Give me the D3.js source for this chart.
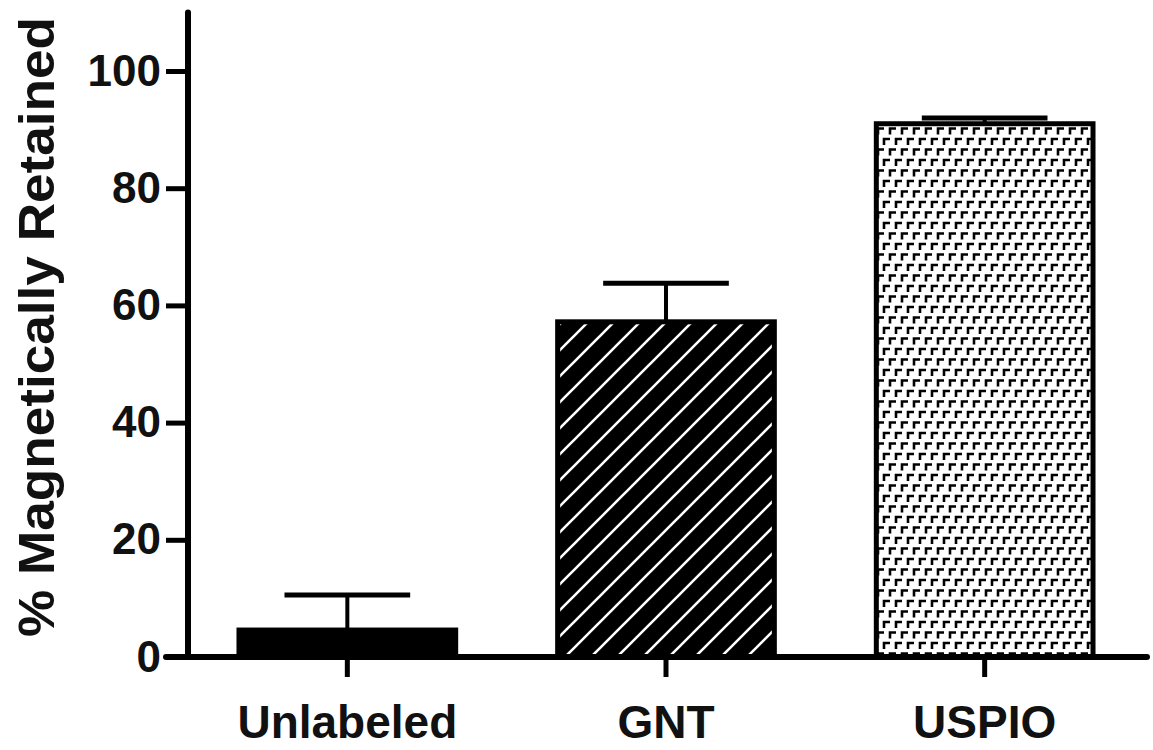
<!DOCTYPE html>
<html>
<head>
<meta charset="utf-8">
<script src="https://cdn.jsdelivr.net/npm/d3@7"></script>
<style>
  body { margin: 0; background: #fff; }
  text { font-family: 'Liberation Sans', Arial, sans-serif; font-weight: bold; fill: #111; }
</style>
</head>
<body>
<div id="chart"></div>
<script>
const categories = ['Unlabeled', 'GNT', 'USPIO'];
const means = [4.6, 57.2, 91];
const errors = [6, 6.6, 1];
const fills = ['#000', 'url(#hatch)', 'url(#dots)'];
const yTicks = [0, 20, 40, 60, 80, 100];
const yLabel = '% Magnetically Retained';

const WIDTH = 1153;
const HEIGHT = 750;

const svg = d3
  .select('#chart')
  .append('svg')
  .attr('width', WIDTH)
  .attr('height', HEIGHT);

const defs = svg.append('defs');

// 斜線パターン
const hatch = defs
  .append('pattern')
  .attr('id', 'hatch')
  .attr('patternUnits', 'userSpaceOnUse')
  .attr('width', 26)
  .attr('height', 26);
hatch.append('rect').attr('width', 26).attr('height', 26).attr('fill', '#000');
hatch
  .append('path')
  .attr('d', 'M0,26 L26,0 M-6.5,6.5 L6.5,-6.5 M19.5,32.5 L32.5,19.5')
  .attr('stroke', '#fff')
  .attr('stroke-width', 2.6);

// 点々パターン
const dots = defs
  .append('pattern')
  .attr('id', 'dots')
  .attr('patternUnits', 'userSpaceOnUse')
  .attr('width', 12)
  .attr('height', 21);
dots.append('rect').attr('width', 12).attr('height', 21).attr('fill', '#fff');
dots
  .append('path')
  .attr('d', 'M2,8.5 v-6 h6 M8,19 v-6 h6 M-4,19 v-6 h6')
  .attr('stroke', '#000')
  .attr('fill', 'none')
  .attr('stroke-width', 2.6);

const x = d3
  .scaleBand()
  .domain(categories)
  .range([188, 1144])
  .paddingInner(0.32)
  .paddingOuter(0.16);

const y = d3.scaleLinear().domain([0, 110]).range([657, 12.4]);

// bars
svg
  .append('g')
  .selectAll('rect')
  .data(categories)
  .enter()
  .append('rect')
  .attr('x', (d) => x(d))
  .attr('y', (d, i) => y(means[i]))
  .attr('width', x.bandwidth())
  .attr('height', (d, i) => y(0) - y(means[i]))
  .attr('fill', (d, i) => fills[i])
  .attr('stroke', '#000')
  .attr('stroke-width', 5);

// error bars (upper only)
const capW = x.bandwidth() * 0.58;
const err = svg.append('g').selectAll('g').data(categories).enter().append('g');
err
  .append('line')
  .attr('x1', (d) => x(d) + x.bandwidth() / 2)
  .attr('x2', (d) => x(d) + x.bandwidth() / 2)
  .attr('y1', (d, i) => y(means[i]))
  .attr('y2', (d, i) => y(means[i] + errors[i]))
  .attr('stroke', '#000')
  .attr('stroke-width', 4);
err
  .append('line')
  .attr('x1', (d) => x(d) + x.bandwidth() / 2 - capW / 2)
  .attr('x2', (d) => x(d) + x.bandwidth() / 2 + capW / 2)
  .attr('y1', (d, i) => y(means[i] + errors[i]))
  .attr('y2', (d, i) => y(means[i] + errors[i]))
  .attr('stroke', '#000')
  .attr('stroke-width', 5);

// y axis
const yAxis = svg
  .append('g')
  .attr('transform', 'translate(188,0)')
  .call(d3.axisLeft(y).tickValues(yTicks).tickSize(22).tickSizeOuter(0).tickPadding(5));
yAxis.select('.domain').remove();
yAxis.selectAll('.tick line').attr('stroke', '#000').attr('stroke-width', 5);
yAxis.selectAll('.tick text').attr('font-size', 44);
yAxis
  .append('line')
  .attr('y1', y(0))
  .attr('y2', y(110))
  .attr('stroke', '#000')
  .attr('stroke-width', 6)
  .attr('stroke-linecap', 'round');

// x axis
const xAxis = svg
  .append('g')
  .attr('transform', 'translate(0,' + y(0) + ')')
  .call(d3.axisBottom(x).tickSize(20).tickSizeOuter(0).tickPadding(28));
xAxis.select('.domain').remove();
xAxis.selectAll('.tick line').attr('stroke', '#000').attr('stroke-width', 5);
xAxis.selectAll('.tick text').attr('font-size', 46);
xAxis
  .append('line')
  .attr('x1', x.range()[0] - 22)
  .attr('x2', x.range()[1] + 3)
  .attr('stroke', '#000')
  .attr('stroke-width', 6)
  .attr('stroke-linecap', 'round');

// y label
svg
  .append('text')
  .attr('transform', 'translate(54,' + 327 + ') rotate(-90)')
  .attr('text-anchor', 'middle')
  .attr('font-size', 50)
  .attr('textLength', 620)
  .attr('lengthAdjust', 'spacingAndGlyphs')
  .text(yLabel);
</script>
</body>
</html>
